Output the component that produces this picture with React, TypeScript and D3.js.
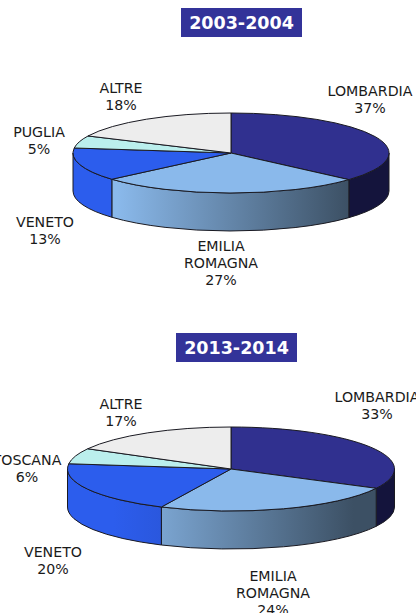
import React from "react";
import * as d3 from "d3";

const regions2003 = ["LOMBARDIA", "EMILIA|ROMAGNA", "VENETO", "PUGLIA", "ALTRE"];
const values2003 = [36.6, 27, 13.4, 5, 18];
const regions2013 = ["LOMBARDIA", "EMILIA|ROMAGNA", "VENETO", "TOSCANA", "ALTRE"];
const values2013 = [32.6, 24.4, 20, 6, 17];
const topColors = ["#30308f", "#8ab9eb", "#2c5ded", "#bbefed", "#ededed"];
const wallLeft = ["#30308f", "#8ab9eb", "#2c5ded", "#bbefed", "#ededed"];
const wallRight = ["#14143c", "#3c5064", "#23409f", "#bbefed", "#ededed"];

const layout2003 = {
  id: "a", title: "2003-2004", cx: 231, cy: 153, rx: 158, ry: 40, depth: 38,
  titleBox: [181, 8, 121, 29],
  labels: [[370, 96], [221, 251], [45, 227], [39, 137], [121, 93]],
};
const layout2013 = {
  id: "b", title: "2013-2014", cx: 231, cy: 469, rx: 163.5, ry: 42, depth: 38,
  titleBox: [176, 333, 121, 29],
  labels: [[377, 402], [273, 581], [53, 557], [27, 465], [121, 409]],
};

const pt = (l: any, a: number) => [l.cx + l.rx * Math.sin(a), l.cy - l.ry * Math.cos(a)];

function Pie({ l, regions, values }: any) {
  const arcs = d3.pie<number>().sort(null)(values);
  const arc = d3.arc<any>().innerRadius(0).outerRadius(l.rx);
  const gx = d3.scaleLinear().domain([-0.72, 0.75]).range([l.cx - 0.72 * l.rx, l.cx + 0.75 * l.rx]);
  const walls = arcs.map((a, i) => {
    const s = Math.max(a.startAngle, Math.PI / 2);
    const e = Math.min(a.endAngle, (3 * Math.PI) / 2);
    if (e <= s) return null;
    const [x0, y0] = pt(l, s);
    const [x1, y1] = pt(l, e);
    const d = `M${x0},${y0}A${l.rx},${l.ry} 0 0 1 ${x1},${y1}L${x1},${y1 + l.depth}A${l.rx},${l.ry} 0 0 0 ${x0},${y0 + l.depth}Z`;
    return (
      <path key={i} d={d} fill={`url(#${l.id}g${i})`} stroke="#1a1a22" strokeWidth={1} strokeLinejoin="round" />
    );
  });
  return (
    <g>
      <defs>
        {topColors.map((_, i) => (
          <linearGradient key={i} id={`${l.id}g${i}`} gradientUnits="userSpaceOnUse" x1={gx(-0.72)} x2={gx(0.75)} y1={0} y2={0}>
            <stop offset="0" stopColor={wallLeft[i]} />
            <stop offset="1" stopColor={wallRight[i]} />
          </linearGradient>
        ))}
      </defs>
      <rect x={l.titleBox[0]} y={l.titleBox[1]} width={l.titleBox[2]} height={l.titleBox[3]} fill="#333399" />
      <text x={l.titleBox[0] + l.titleBox[2] / 2} y={l.titleBox[1] + 21} textAnchor="middle" fill="#fff"
        fontFamily="'DejaVu Sans'" fontWeight="bold" fontSize={17.5}>{l.title}</text>
      {walls}
      <g transform={`translate(${l.cx},${l.cy}) scale(1,${l.ry / l.rx})`}>
        {arcs.map((a, i) => (
          <path key={i} d={arc(a) as string} fill={topColors[i]} stroke="#1a1a22" strokeWidth={1} vectorEffect="non-scaling-stroke" strokeLinejoin="round" />
        ))}
      </g>
      {regions.map((r: string, i: number) => {
        const lines = [...r.split("|"), `${Math.round(values[i])}%`];
        return (
          <text key={i} textAnchor="middle" fill="#1a1a1a" fontFamily="'DejaVu Sans'" fontSize={14.2}>
            {lines.map((t, j) => (
              <tspan key={j} x={l.labels[i][0]} y={l.labels[i][1] + j * 17}>{t}</tspan>
            ))}
          </text>
        );
      })}
    </g>
  );
}

export default function App() {
  return (
    <svg width={416} height={613} style={{ position: "absolute", left: 0, top: 0, background: "#fff" }}>
      <Pie l={layout2003} regions={regions2003} values={values2003} />
      <Pie l={layout2013} regions={regions2013} values={values2013} />
    </svg>
  );
}
